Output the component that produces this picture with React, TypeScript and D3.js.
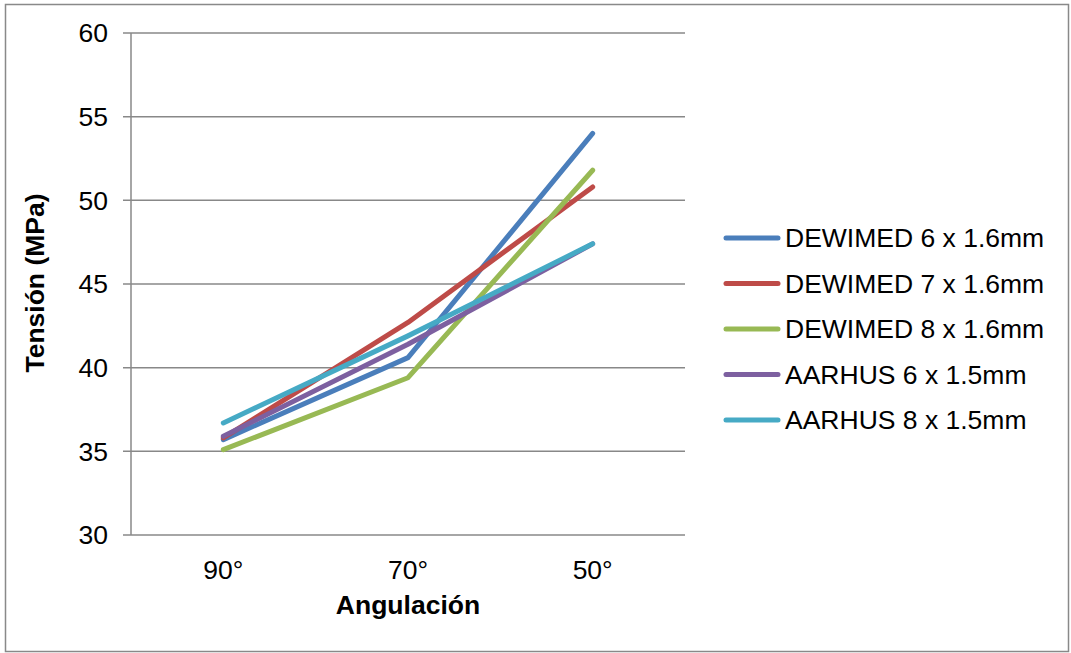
import React from "react";
import * as d3 from "d3";

const categories = ["90°", "70°", "50°"];
const seriesNames = [
  "DEWIMED 6 x 1.6mm",
  "DEWIMED 7 x 1.6mm",
  "DEWIMED 8 x 1.6mm",
  "AARHUS 6 x 1.5mm",
  "AARHUS 8 x 1.5mm",
];
const dewimed6 = [35.7, 40.6, 54.0];
const dewimed7 = [35.8, 42.7, 50.8];
const dewimed8 = [35.1, 39.4, 51.8];
const aarhus6 = [35.9, 41.4, 47.4];
const aarhus8 = [36.7, 41.9, 47.4];
const seriesValues = [dewimed6, dewimed7, dewimed8, aarhus6, aarhus8];
const colors = ["#4A7EBB", "#BE4B48", "#98B954", "#7D60A0", "#46AAC5"];
const yTicks = [30, 35, 40, 45, 50, 55, 60];

export default function App() {
  const W = 1071, H = 653;
  const left = 131, right = 685, top = 33, bottom = 535;
  const x = d3.scaleBand<string>().domain(categories).range([left, right]);
  const y = d3.scaleLinear().domain([30, 60]).range([bottom, top]);
  const line = d3
    .line<number>()
    .x((_, i) => (x(categories[i]) as number) + x.bandwidth() / 2)
    .y((v) => y(v));
  const font = "'Liberation Sans', Arial, sans-serif";
  const fs = 26.5;
  return (
    <svg
      width={W}
      height={H}
      style={{ position: "absolute", left: 0, top: 0, background: "#fff" }}
      fontFamily={font}
    >
      <rect x={5.5} y={4.5} width={1063} height={647} fill="#fff" stroke="#898989" strokeWidth={1.5} />
      {yTicks.map((t) => (
        <g key={t}>
          <line x1={left - 8} x2={right} y1={y(t)} y2={y(t)} stroke="#888" strokeWidth={1.5} />
          <text x={108} y={y(t)} dy="0.35em" textAnchor="end" fontSize={fs} fill="#000">
            {t}
          </text>
        </g>
      ))}
      <line x1={left} x2={left} y1={top} y2={bottom} stroke="#888" strokeWidth={1.5} />
      {categories.map((c) => (
        <text
          key={c}
          x={(x(c) as number) + x.bandwidth() / 2}
          y={579}
          textAnchor="middle"
          fontSize={fs}
          fill="#000"
        >
          {c}
        </text>
      ))}
      {seriesValues.map((vals, i) => (
        <path
          key={i}
          d={line(vals) as string}
          fill="none"
          stroke={colors[i]}
          strokeWidth={5}
          strokeLinecap="round"
          strokeLinejoin="round"
        />
      ))}
      <text x={408} y={614} textAnchor="middle" fontSize={fs} fontWeight="bold" fill="#000">
        Angulación
      </text>
      <text
        transform={`translate(44,${283}) rotate(-90)`}
        textAnchor="middle"
        fontSize={fs}
        fontWeight="bold"
        fill="#000"
      >
        Tensión (MPa)
      </text>
      {seriesNames.map((n, i) => {
        const ly = 238 + i * 45.5;
        return (
          <g key={n}>
            <line x1={726} x2={778} y1={ly} y2={ly} stroke={colors[i]} strokeWidth={5} strokeLinecap="round" />
            <text x={785} y={ly} dy="0.35em" fontSize={fs} fill="#000">
              {n}
            </text>
          </g>
        );
      })}
    </svg>
  );
}
